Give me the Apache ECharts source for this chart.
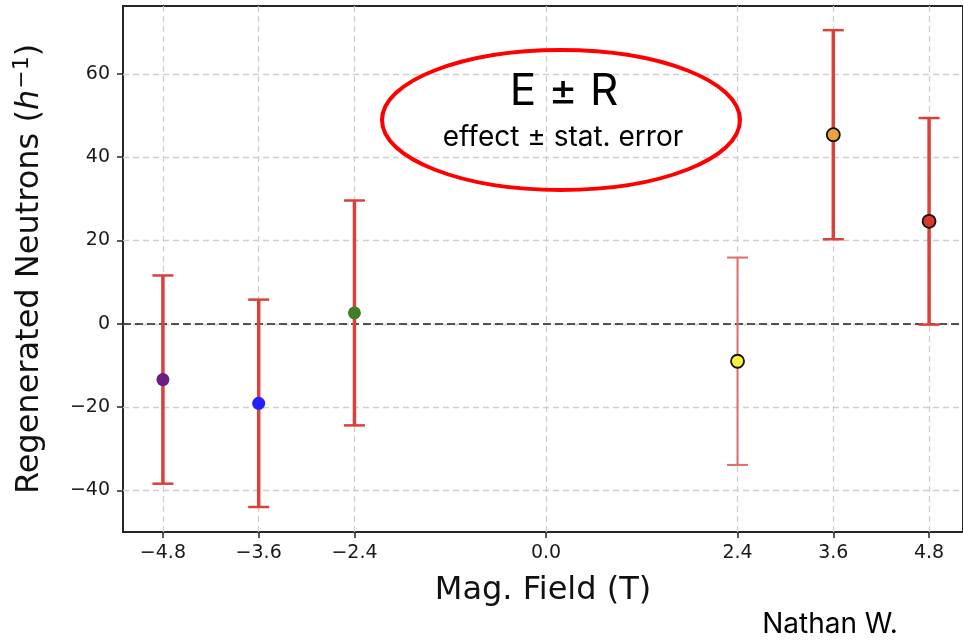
<!DOCTYPE html>
<html>
<head>
<meta charset="utf-8">
<script src="https://cdn.jsdelivr.net/npm/echarts@6/dist/echarts.min.js"></script>
<style>
html,body{margin:0;padding:0;background:#fff;}
#chart{width:963px;height:640px;}
</style>
</head>
<body>
<div id="chart"></div>
<script>
// ---- data ----
const fields  = [-4.8, -3.6, -2.4, 2.4, 3.6, 4.8];
const effects = [-13.4, -19.1, 2.6, -9.0, 45.4, 24.6];
const errors  = [25.0, 24.9, 27.0, 24.9, 25.1, 24.8];
const xTicks = [-4.8, -3.6, -2.4, 0.0, 2.4, 3.6, 4.8];
const yTicks = [-40, -20, 0, 20, 40, 60];
const xTitle = 'Mag. Field (T)';
const yTitle = '{t|Regenerated Neutrons (}{i|h}{s|−1}{t|)}';
const boxTitle = 'E ± R';
const boxSub = 'effect ± stat. error';
const author = 'Nathan W.';

// ---- styles ----
const pointColors = ['#6b1f80', '#2222ff', '#3f7f27', '#f6f23e', '#e8a33a', '#d8392a'];
const pointEdged  = [false, false, false, true, true, true];
const barColors   = ['#d9413b', '#d9413b', '#d9413b', '#e26b6b', '#d9413b', '#d9413b'];
const barWidths   = [3.5, 3.5, 3.5, 2, 3.5, 3.5];

const FONT = '"DejaVu Sans", sans-serif';
const minus = s => String(s).replace('-', '\u2212');

const chart = echarts.init(document.getElementById('chart'), null, {renderer: 'canvas'});

const errData = fields.map((f, i) => [f, effects[i] - errors[i], effects[i] + errors[i]]);
const ptData = fields.map((f, i) => ({
  value: [f, effects[i]],
  itemStyle: {
    color: pointColors[i],
    opacity: 1,
    borderColor: pointEdged[i] ? '#111' : pointColors[i],
    borderWidth: pointEdged[i] ? 1.8 : 0
  }
}));

const gridLineStyle = {color: '#cfcfcf', type: [6, 4], width: 1.3};

chart.setOption({
  animation: false,
  backgroundColor: '#fff',
  grid: {
    left: 123, top: 6, right: -2, bottom: 108,
    show: true, borderColor: '#262626', borderWidth: 2, backgroundColor: 'transparent'
  },
  xAxis: {
    type: 'value', min: -5.3, max: 5.225,
    axisLine: {show: true, onZero: false, lineStyle: {color: '#262626', width: 2}},
    axisTick: {show: true, length: 6, lineStyle: {color: '#262626', width: 1.5}, customValues: xTicks},
    axisLabel: {
      customValues: xTicks, margin: 12, fontFamily: FONT, fontSize: 19, color: '#1a1a1a',
      formatter: v => minus(v.toFixed(1))
    },
    splitLine: {show: false},
    name: xTitle, nameLocation: 'middle', nameGap: 43,
    nameTextStyle: {fontFamily: FONT, fontSize: 32, color: '#111'}
  },
  yAxis: {
    type: 'value', min: -50, max: 76.3,
    axisLine: {show: true, onZero: false, lineStyle: {color: '#262626', width: 2}},
    axisTick: {show: true, length: 6, lineStyle: {color: '#262626', width: 1.5}, customValues: yTicks},
    axisLabel: {
      customValues: yTicks, margin: 13, fontFamily: FONT, fontSize: 19, color: '#1a1a1a',
      formatter: v => minus(v)
    },
    splitLine: {show: false},
    name: yTitle, nameLocation: 'middle', nameGap: 77, nameRotate: 90,
    nameTextStyle: {
      fontFamily: FONT, fontSize: 32, color: '#111',
      rich: {
        t: {fontFamily: FONT, fontSize: 32, color: '#111', verticalAlign: 'bottom'},
        i: {fontFamily: FONT, fontSize: 32, fontStyle: 'italic', color: '#111', verticalAlign: 'bottom'},
        s: {fontFamily: FONT, fontSize: 22, color: '#111', verticalAlign: 'bottom', padding: [0, 0, 13, 1]}
      }
    }
  },
  series: [
    {
      type: 'scatter', data: [], z: 1, silent: true,
      markLine: {
        z: 1, silent: true, symbol: 'none', label: {show: false}, animation: false,
        data: [
          ...xTicks.map(v => ({xAxis: v, lineStyle: gridLineStyle})),
          ...yTicks.map(v => ({yAxis: v, lineStyle: gridLineStyle})),
          {yAxis: 0, lineStyle: {color: '#222', type: [8, 4], width: 1.6}}
        ]
      }
    },
    {
      type: 'custom', z: 3, silent: true,
      data: errData,
      encode: {x: 0, y: [1, 2]},
      renderItem: (params, api) => {
        const i = params.dataIndex;
        const lo = api.coord([api.value(0), api.value(1)]);
        const hi = api.coord([api.value(0), api.value(2)]);
        const c = barColors[i], w = barWidths[i], cap = 10.5, cw = Math.min(w, 2.5);
        return {
          type: 'group',
          children: [
            {type: 'line', shape: {x1: lo[0], y1: lo[1], x2: hi[0], y2: hi[1]}, style: {stroke: c, lineWidth: w}},
            {type: 'line', shape: {x1: lo[0] - cap, y1: lo[1], x2: lo[0] + cap, y2: lo[1]}, style: {stroke: c, lineWidth: cw}},
            {type: 'line', shape: {x1: hi[0] - cap, y1: hi[1], x2: hi[0] + cap, y2: hi[1]}, style: {stroke: c, lineWidth: cw}}
          ]
        };
      }
    },
    {
      type: 'scatter', z: 6, silent: true,
      symbol: 'circle', symbolSize: 13,
      data: ptData
    }
  ],
  graphic: [
    {
      type: 'ellipse', z: 20, silent: true,
      shape: {cx: 561, cy: 120, rx: 179, ry: 70},
      style: {fill: null, stroke: '#ff0000', lineWidth: 4}
    },
    {
      type: 'text', z: 21, silent: true, x: 564, y: 92,
      style: {text: boxTitle, font: '44px Inter, "Noto Sans", sans-serif', fill: '#000', textAlign: 'center', textVerticalAlign: 'middle'}
    },
    {
      type: 'text', z: 21, silent: true, x: 563, y: 138,
      style: {text: boxSub, font: '28px Inter, "Noto Sans", sans-serif', fill: '#000', textAlign: 'center', textVerticalAlign: 'middle'}
    },
    {
      type: 'text', z: 21, silent: true, x: 830, y: 625,
      style: {text: author, font: '28px Inter, "Noto Sans", sans-serif', fill: '#000', textAlign: 'center', textVerticalAlign: 'middle'}
    }
  ]
});
</script>
</body>
</html>
